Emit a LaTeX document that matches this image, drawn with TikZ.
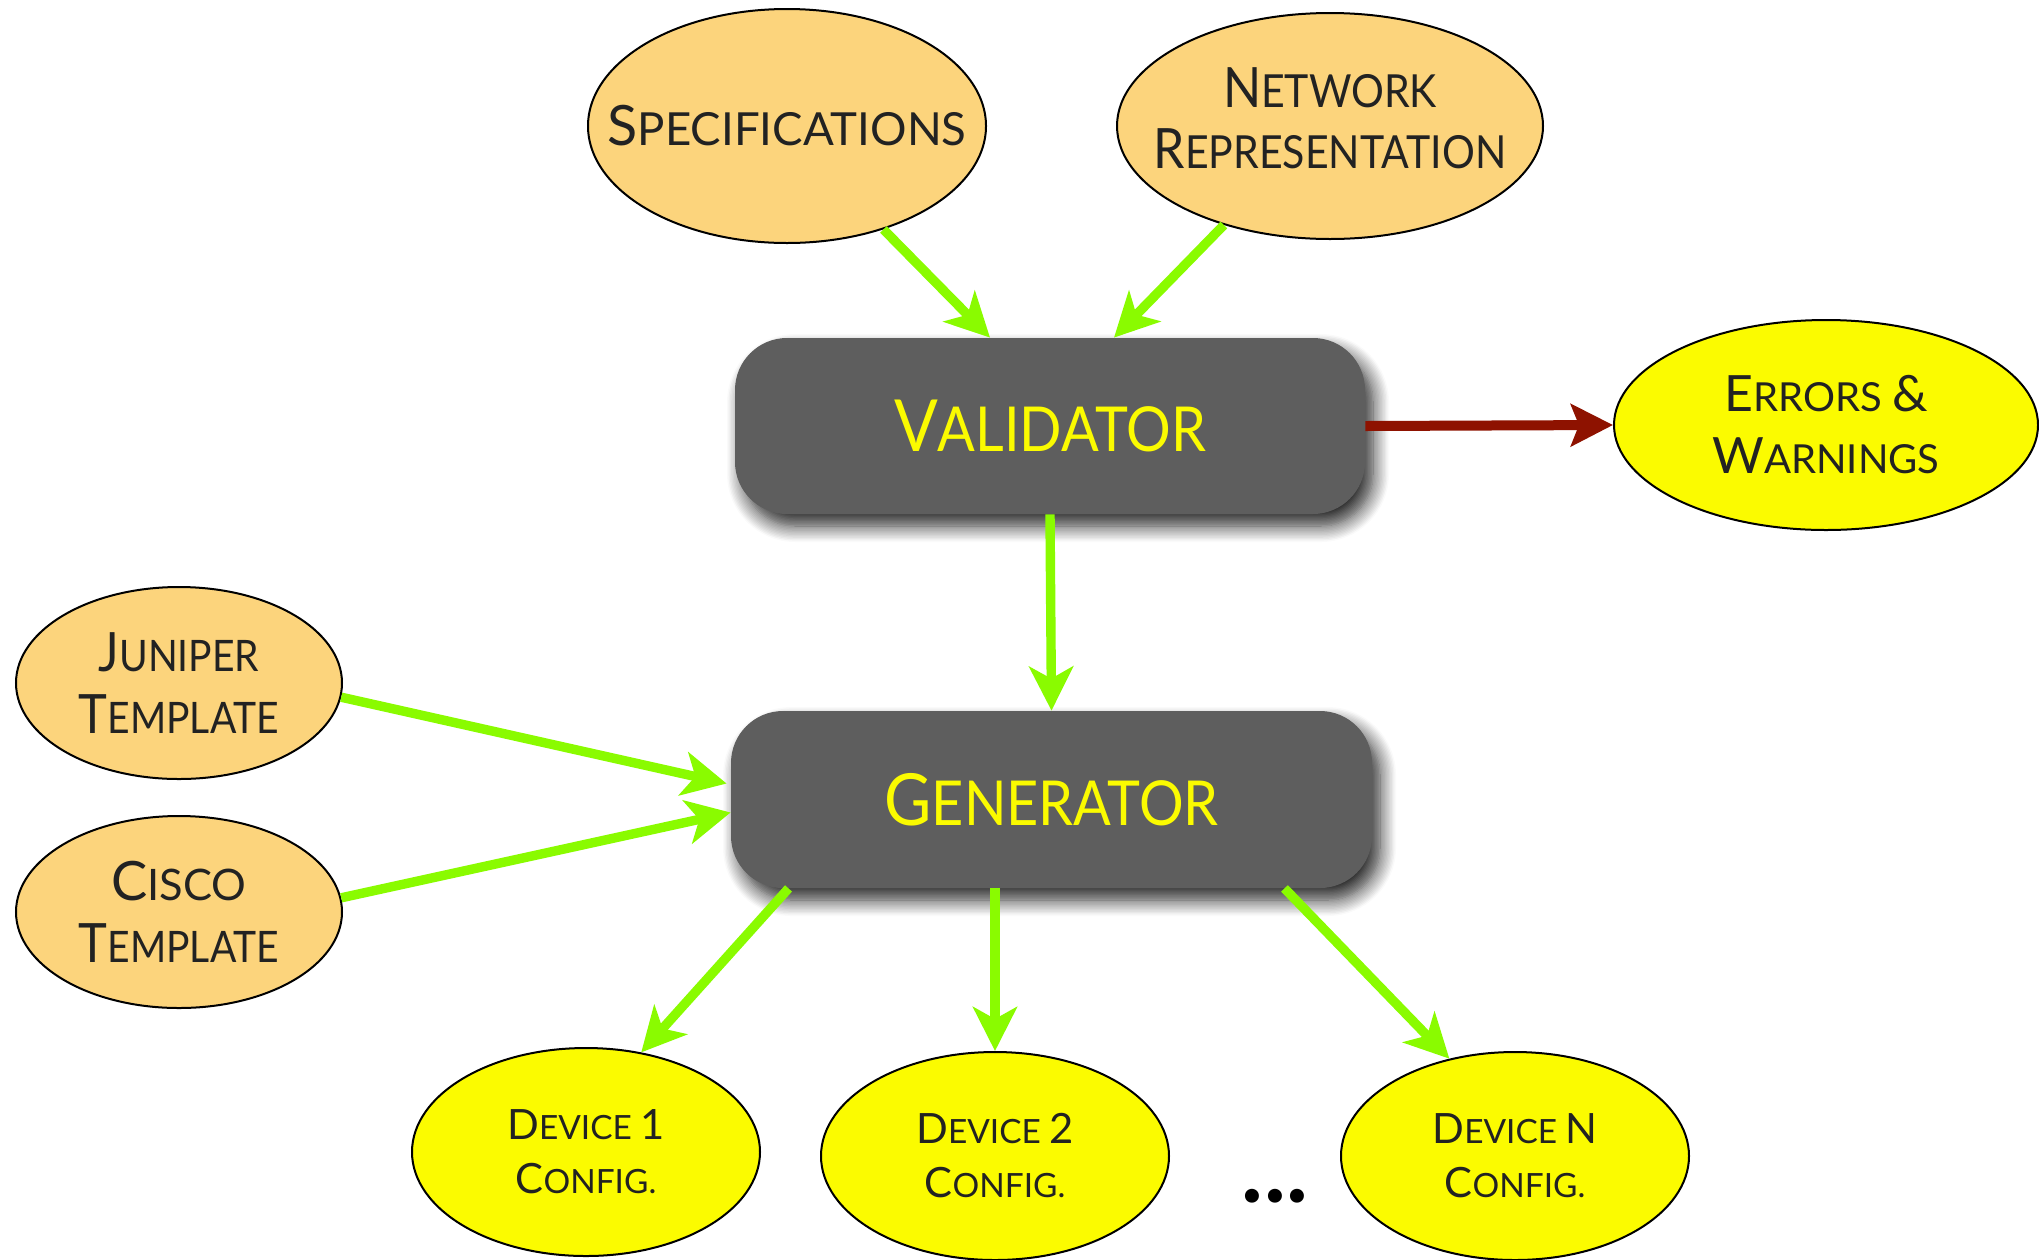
\documentclass[tikz,border=0pt]{standalone}
\usepackage{fontspec}
\setmainfont{Lato}
\usepackage{graphicx}
\usetikzlibrary{arrows.meta,shapes.geometric,shadows.blur,calc}

\definecolor{peach}{HTML}{FCD47C}
\definecolor{lemon}{HTML}{FBFB00}
\definecolor{arrowgreen}{HTML}{8AFB00}
\definecolor{slate}{HTML}{5E5E5E}
\definecolor{rust}{HTML}{8E1200}
\definecolor{ink}{HTML}{222222}

% fake small caps: enlarged initial capital
\newcommand\cp[2][1.22]{\scalebox{#1}{#2}}
% a centred line of zero width, so the ellipse keeps its own size
\newcommand\zl[2][1]{\makebox[0pt]{\scalebox{#1}[1]{#2}}}

\tikzset{
  orb/.style={ellipse, draw=black, line width=1pt, inner sep=0pt, align=center, text=ink},
  inputorb/.style={orb, fill=peach},
  outputorb/.style={orb, fill=lemon},
  proc/.style={rounded corners=26pt, fill=slate, text=lemon, inner sep=0pt,
    font=\fontsize{31}{36}\selectfont,
    blur shadow={shadow xshift=4pt, shadow yshift=-6pt, shadow blur radius=8pt,
                 shadow blur steps=12, shadow opacity=85}},
  flow/.style={draw=arrowgreen, line width=4.7pt, -{Stealth[length=22pt,width=22pt,inset=6pt]}},
  fault/.style={draw=rust, line width=5pt, -{Stealth[length=21pt,width=21pt,inset=4pt]}},
}

\begin{document}
\begin{tikzpicture}[x=0.5pt, y=-0.5pt]
  \useasboundingbox (0,0) rectangle (2039,1259);

  % inputs
  \node[inputorb, minimum width=199pt, minimum height=117pt,
        font=\fontsize{22.8}{30}\selectfont] (spec) at (787,126)
        {\zl{\cp{S}PECIFICATIONS}};
  \node[inputorb, minimum width=213pt, minimum height=113pt,
        font=\fontsize{22.8}{30.5}\selectfont] (net) at (1330,126)
        {\raisebox{8pt}{\zl[0.9]{\cp{N}ETWORK}}\\\raisebox{8pt}{\zl[0.9]{\cp{R}EPRESENTATION}}};

  % processing stages
  \node[proc, minimum width=315pt, minimum height=88pt] (val) at (1050,426)
        {\scalebox{0.9}[1]{\cp[1.16]{V}ALIDATOR}};
  \node[proc, minimum width=320.5pt, minimum height=88.5pt] (gen) at (1051.5,799.5)
        {\scalebox{0.9}[1]{\cp[1.16]{G}ENERATOR}};

  % validation output
  \node[outputorb, minimum width=212pt, minimum height=105pt,
        font=\fontsize{20}{31}\selectfont] (err) at (1826,425)
        {\zl{\cp[1.25]{E}RRORS \cp[1.25]{\&}}\\\zl{\cp[1.25]{W}ARNINGS}};

  % templates
  \node[inputorb, minimum width=163pt, minimum height=96pt,
        font=\fontsize{21.7}{31}\selectfont] (jun) at (179,683)
        {\zl[0.9]{\cp[1.25]{J}UNIPER}\\\zl[0.9]{\cp[1.25]{T}EMPLATE}};
  \node[inputorb, minimum width=163pt, minimum height=96pt,
        font=\fontsize{21.7}{31}\selectfont] (cis) at (179,912)
        {\zl{\cp[1.25]{C}ISCO}\\\zl[0.9]{\cp[1.25]{T}EMPLATE}};

  % generated configurations
  \node[outputorb, minimum width=174pt, minimum height=104pt,
        font=\fontsize{16.7}{27}\selectfont] (dev1) at (586,1152)
        {\zl{\cp[1.25]{D}EVICE \cp[1.25]{1}}\\\zl{\cp[1.25]{C}ONFIG.}};
  \node[outputorb, minimum width=174pt, minimum height=104pt,
        font=\fontsize{16.7}{27}\selectfont] (dev2) at (995,1156)
        {\zl{\cp[1.25]{D}EVICE \cp[1.25]{2}}\\\zl{\cp[1.25]{C}ONFIG.}};
  \node[outputorb, minimum width=174pt, minimum height=104pt,
        font=\fontsize{16.7}{27}\selectfont] (devn) at (1515,1156)
        {\zl{\cp[1.25]{D}EVICE \cp[1.25]{N}}\\\zl{\cp[1.25]{C}ONFIG.}};
  \node[font=\fontsize{46}{46}\selectfont\bfseries, text=black] (dots) at (1275,1196)
        {.\kern0.5pt.\kern0.5pt.};

  % connectors
  \draw[flow] (spec.-47) -- ($(val.north)+(-60,0)$);
  \draw[flow] (net.-137) -- ($(val.north)+(64,0)$);
  \draw[fault] (val.east) -- (err.west);
  \draw[flow] (val.south) -- (gen.north);
  \draw[flow] (jun.-5) -- ($(gen.west)+(-4,-16)$);
  \draw[flow] (cis.5) -- ($(gen.west)+(0,13)$);
  \draw[flow] ($(gen.south)+(-263,0)$) -- (dev1.61);
  \draw[flow] (dev2.north |- gen.south) -- (dev2.north);
  \draw[flow] ($(gen.south)+(233,0)$) -- (devn.124);
\end{tikzpicture}
\end{document}
